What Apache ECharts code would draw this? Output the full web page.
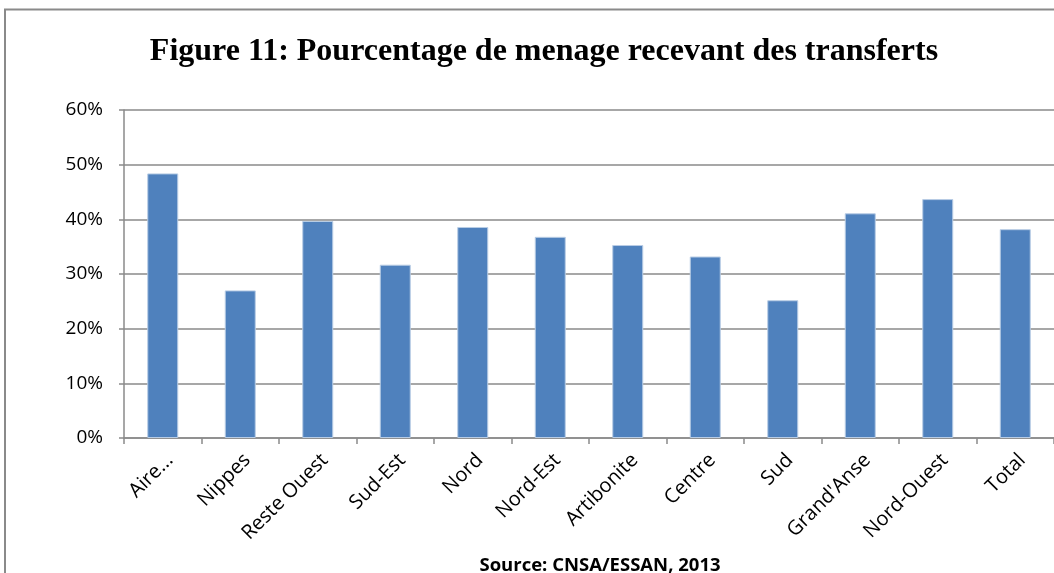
<!DOCTYPE html>
<html>
<head>
<meta charset="utf-8">
<script src="https://cdn.jsdelivr.net/npm/echarts@6/dist/echarts.min.js"></script>
<style>
    html, body { margin: 0; padding: 0; background: #fff; }
    #main { width: 1054px; height: 573px; }
</style>
</head>
<body>
<div id="main"></div>
<script>
// departements
var categories = ['Aire...', 'Nippes', 'Reste Ouest', 'Sud-Est', 'Nord', 'Nord-Est',
    'Artibonite', 'Centre', 'Sud', "Grand'Anse", 'Nord-Ouest', 'Total'];
// pourcentage de menage recevant des transferts
var values = [48.4, 27.0, 39.7, 31.7, 38.6, 36.8, 35.3, 33.2, 25.2, 41.1, 43.7, 38.2];
var yTicks = [0, 10, 20, 30, 40, 50, 60];

var myChart = echarts.init(document.getElementById('main'));

var option = {
    backgroundColor: '#fff',
    animation: false,
    title: [{
        text: 'Figure 11: Pourcentage de menage recevant des transferts',
        left: 539,
        top: 31,
        textAlign: 'center',
        textStyle: {
            fontFamily: 'Liberation Serif',
            fontWeight: 'bold',
            fontSize: 32,
            color: '#000'
        }
    }, {
        text: 'Source: CNSA/ESSAN, 2013',
        left: 595,
        top: 551,
        textAlign: 'center',
        textStyle: {
            fontFamily: 'Open Sans',
            fontWeight: 'bold',
            fontSize: 18.5,
            color: '#000'
        }
    }],
    graphic: [{
        type: 'polyline',
        shape: { points: [[5, 573], [5, 9.5], [1054, 9.5]] },
        style: { stroke: '#8a8a8a', lineWidth: 2, fill: null }
    }],
    grid: {
        left: 124,
        top: 110,
        width: 940,
        height: 328
    },
    xAxis: {
        type: 'category',
        data: categories,
        axisLine: { lineStyle: { color: '#8a8a8a', width: 1.5 } },
        axisTick: { show: true, length: 6, lineStyle: { color: '#8a8a8a', width: 1.5 } },
        axisLabel: {
            rotate: 45,
            interval: 0,
            margin: 12,
            verticalAlign: 'top',
            fontFamily: 'Open Sans',
            fontSize: 20,
            color: '#000'
        }
    },
    yAxis: {
        type: 'value',
        min: yTicks[0],
        max: yTicks[yTicks.length - 1],
        interval: 10,
        axisLine: { show: true, lineStyle: { color: '#8a8a8a', width: 1.5 } },
        axisTick: { show: true, length: 5, lineStyle: { color: '#8a8a8a', width: 1.5 } },
        splitLine: { lineStyle: { color: '#8a8a8a', width: 1.5 } },
        axisLabel: {
            formatter: '{value}%',
            margin: 21,
            fontFamily: 'Open Sans',
            fontSize: 19,
            color: '#000'
        }
    },
    series: [{
        type: 'bar',
        data: values,
        barWidth: 31,
        itemStyle: {
            color: '#4f81bd',
            borderColor: '#b9cde5',
            borderWidth: 1
        }
    }]
};

myChart.setOption(option);
</script>
</body>
</html>
